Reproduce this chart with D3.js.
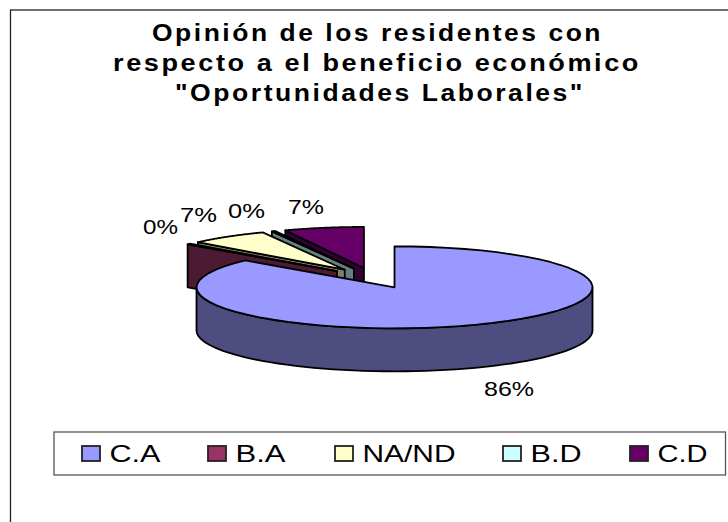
<!DOCTYPE html>
<html><head><meta charset="utf-8">
<script src="https://cdn.jsdelivr.net/npm/d3@7"></script>
<style>html,body{margin:0;padding:0;background:#fff}svg{display:block}text{font-family:"Liberation Sans",Arial,sans-serif;fill:#000}</style>
</head><body><svg id="c" width="728" height="522"></svg>
<script>
const categories=["C.A","B.A","NA/ND","B.D","C.D"];
const values=[86.4,0.3,6.5,0.3,6.5];
const valueLabels=["86%","0%","7%","0%","7%"];
const titleLines=["Opinión de los residentes con","respecto a el beneficio económico","\"Oportunidades Laborales\""];
const topColors=["#9999FF","#993366","#FFFFCC","#CCFFFF","#660066"];
const sideColors=["#4D4D80","#4D1A33","#808066","#668080","#330033"];

// layout
const titleX=[152,113,175],titleW=[451,528,410],titleY=[41,71,101];
const labelPos=[[484,396],[143,234],[180,222],[228,218],[288,214]];
const labelW=[50,35,37,37,36];
const legendX=[82,208,335,503,630];
const legendW=[51,50,93,51,50];

const svg=d3.select("#c");
const cx=374,cy=278,rx=198,ry=41,depth=43,explode=0.25;
const sx=d3.scaleLinear().domain([-1,1]).range([-rx,rx]);
const sy=d3.scaleLinear().domain([-1,1]).range([-ry,ry]);
const line=d3.line();
const arcs=d3.pie().sort(null).startAngle(0).endAngle(2*Math.PI)(values);
arcs.forEach(a=>{
  const m=(a.startAngle+a.endAngle)/2;
  a.cx=cx+explode*sx(Math.sin(m));
  a.cy=cy-explode*sy(Math.cos(m));
});
const pt=(a,t,dy=0)=>[a.cx+sx(Math.sin(t)),a.cy-sy(Math.cos(t))+dy];
const rim=(a,t0,t1,dy=0)=>d3.range(0,61).map(i=>pt(a,t0+(t1-t0)*i/60,dy));

svg.append("rect").attr("x",10.5).attr("y",10).attr("width",730).attr("height",530)
  .attr("fill","#fff").attr("stroke","#222").attr("stroke-width",1.3);

svg.append("g").attr("font-size",23).attr("font-weight",700).attr("letter-spacing",2.2)
  .selectAll("text").data(titleLines).join("text")
  .attr("x",(d,i)=>titleX[i]).attr("y",(d,i)=>titleY[i])
  .attr("textLength",(d,i)=>titleW[i]).attr("lengthAdjust","spacingAndGlyphs").text(d=>d);

const applyS=s=>s.attr("stroke","#000").attr("stroke-width",1.8).attr("stroke-linejoin","round");

// back to front
const order=[4,3,2,1,0];
const g=svg.append("g");
order.forEach(i=>{
  const a=arcs[i];
  const c=[a.cx,a.cy];
  if(i!==0){
    const p=pt(a,a.startAngle);
    applyS(g.append("path").attr("fill",sideColors[i])
      .attr("d",line([c,p,[p[0],p[1]+depth],[c[0],c[1]+depth]])+"Z"));
  } else {
    const t0=Math.PI/2,t1=a.endAngle;
    const front=rim(a,t0,Math.min(t1,1.5*Math.PI));
    const back=rim(a,t0,Math.min(t1,1.5*Math.PI),depth).reverse();
    applyS(g.append("path").attr("fill",sideColors[i]).attr("d",line(front.concat(back))+"Z"));
  }
  const top=[c].concat(rim(a,a.startAngle,a.endAngle));
  applyS(g.append("path").attr("fill",topColors[i]).attr("d",line(top)+"Z"));
});

svg.append("g").attr("font-size",20.5).selectAll("text").data(valueLabels).join("text")
  .attr("x",(d,i)=>labelPos[i][0]).attr("y",(d,i)=>labelPos[i][1])
  .attr("textLength",(d,i)=>labelW[i]).attr("lengthAdjust","spacingAndGlyphs").text(d=>d);

svg.append("rect").attr("x",54).attr("y",432).attr("width",671.5).attr("height",43)
  .attr("fill","#fff").attr("stroke","#555").attr("stroke-width",1.3);
const lg=svg.append("g").selectAll("g").data(categories).join("g")
  .attr("transform",(d,i)=>`translate(${legendX[i]},0)`);
lg.append("rect").attr("y",446).attr("width",18).attr("height",15)
  .attr("fill",(d,i)=>topColors[i]).attr("stroke","#222").attr("stroke-width",1.8);
lg.append("text").attr("x",27.5).attr("y",462).attr("font-size",24)
  .attr("textLength",(d,i)=>legendW[i]).attr("lengthAdjust","spacingAndGlyphs").text(d=>d);
</script></body></html>
